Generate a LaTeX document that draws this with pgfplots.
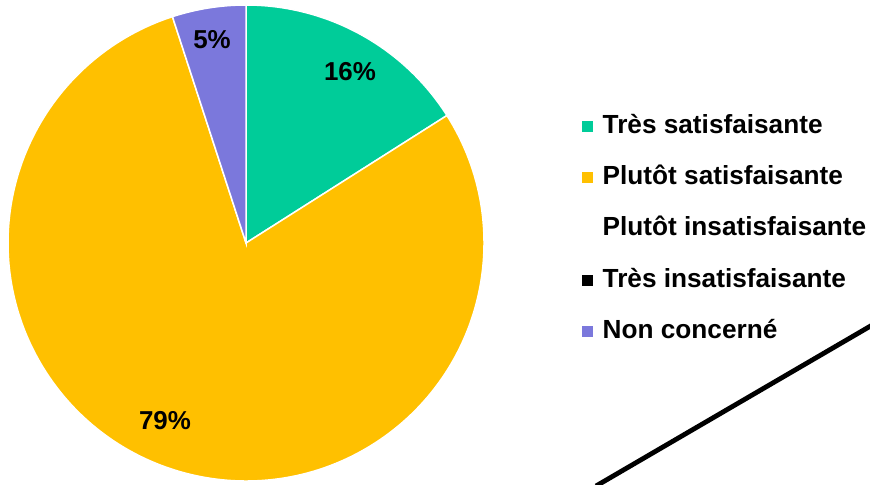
\documentclass[border=0pt]{standalone}
\usepackage{pgfplots}
\pgfplotsset{compat=1.18}
\usepackage{fontspec}
\setmainfont{Liberation Sans}
\definecolor{cgreen}{HTML}{00CC99}
\definecolor{cyellow}{HTML}{FFC000}
\definecolor{cpurple}{HTML}{7B78DC}
% slice shares (percent)
\def\vA{16}\def\vB{79}\def\vC{5}
\begin{document}
\begin{tikzpicture}
\begin{axis}[
  width=870bp, height=484bp, scale only axis,
  xmin=0, xmax=870, ymin=0, ymax=484,
  hide axis,
  legend image code/.code={\path[#1] (0bp,-5.5bp) rectangle (11bp,5.5bp);},
  legend style={at={(axis cs:582,370)}, anchor=north west, draw=none, fill=none,
    inner sep=0pt, row sep=27.3bp,
    font=\fontsize{26.3}{30}\selectfont\bfseries,
    nodes={inner xsep=9.5bp, inner ysep=0bp, text height=19bp, text depth=5bp}},
  legend cell align=left,
]
% pie slices
\fill[cgreen, draw=white, line width=1.5bp] (axis cs:246,241) -- ++(90:238bp) arc[start angle=90, end angle={90-\vA*3.6}, radius=238bp] -- cycle;
\fill[cyellow, draw=white, line width=1.5bp] (axis cs:246,241) -- ++({90-\vA*3.6}:238bp) arc[start angle={90-\vA*3.6}, end angle={90-(\vA+\vB)*3.6}, radius=238bp] -- cycle;
\fill[cpurple, draw=white, line width=1.5bp] (axis cs:246,241) -- ++({90-(\vA+\vB)*3.6}:238bp) arc[start angle={90-(\vA+\vB)*3.6}, end angle={90-(\vA+\vB+\vC)*3.6}, radius=238bp] -- cycle;
\node[font=\fontsize{26}{30}\selectfont\bfseries] at (axis cs:350,412) {16\%};
\node[font=\fontsize{26}{30}\selectfont\bfseries] at (axis cs:212,444) {5\%};
\node[font=\fontsize{26}{30}\selectfont\bfseries] at (axis cs:165,63) {79\%};
% stray line
\addplot[black, line width=4.8bp, forget plot] coordinates {(596,-2) (874,160)};
% legend
\addlegendimage{fill=cgreen, draw=none}
\addlegendentry{Très satisfaisante}
\addlegendimage{fill=cyellow, draw=none}
\addlegendentry{Plutôt satisfaisante}
\addlegendimage{draw=none, fill=none}
\addlegendentry{Plutôt insatisfaisante}
\addlegendimage{fill=black, draw=none}
\addlegendentry{Très insatisfaisante}
\addlegendimage{fill=cpurple, draw=none}
\addlegendentry{Non concerné}
\end{axis}
\pgfresetboundingbox
\useasboundingbox (current axis.south west) rectangle (current axis.north east);
\end{tikzpicture}
\end{document}
